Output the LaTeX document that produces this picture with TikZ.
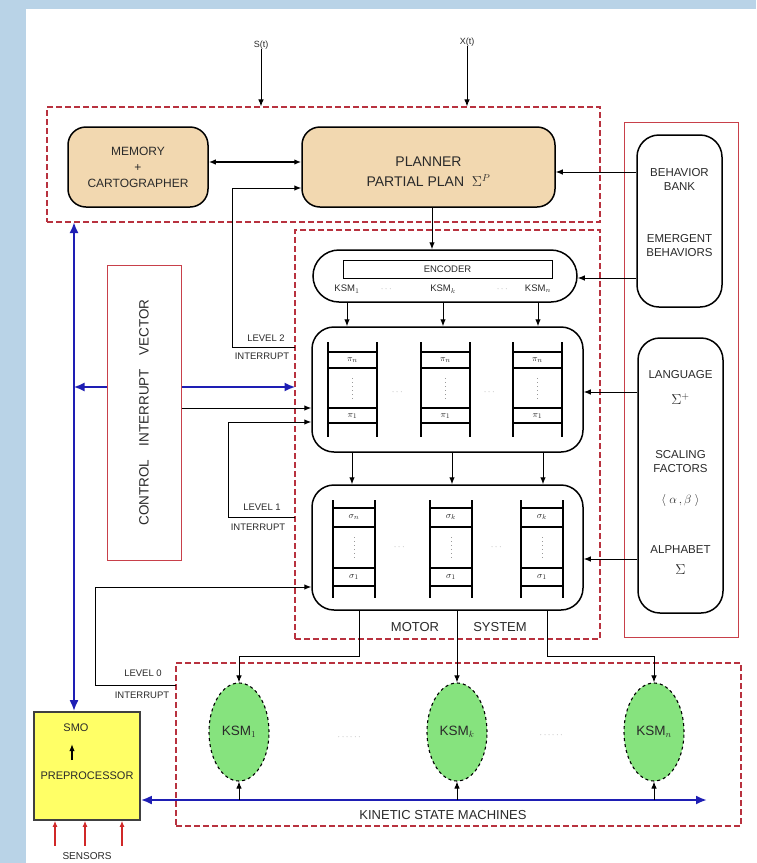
\documentclass[tikz,border=0pt]{standalone}
\usepackage{fontspec}
\setmainfont{Liberation Sans}
\usepackage{amsmath}
\usetikzlibrary{arrows.meta,positioning,shapes.geometric,calc}
\definecolor{bgblue}{HTML}{B9D3E7}
\definecolor{tanfill}{HTML}{F2D8B0}
\definecolor{grpred}{HTML}{B8323F}
\definecolor{boxred}{HTML}{C8404A}
\definecolor{busblue}{HTML}{1E1EB4}
\definecolor{ksmgreen}{HTML}{86E37E}
\definecolor{smoyellow}{HTML}{FFFF66}
\definecolor{inkgray}{HTML}{2A2A2A}
\definecolor{dotgray}{HTML}{9A9A9A}
\definecolor{sensred}{HTML}{D02828}

\begin{document}
\begin{tikzpicture}[
  x=1pt, y=-1pt,
  every node/.style={text=inkgray},
  lbl/.style={font=\fontsize{13}{15}\selectfont, align=center, inner sep=0pt},
  sidelbl/.style={font=\fontsize{11.5}{14}\selectfont, align=center, inner sep=0pt},
  tinylbl/.style={font=\fontsize{9.5}{11}\selectfont, align=center, inner sep=0pt},
  block/.style={rectangle, rounded corners=18pt, draw=black, line width=1.5pt, fill=tanfill, align=center, font=\fontsize{12}{16}\selectfont},
  sidebox/.style={rectangle, rounded corners=22pt, draw=black, line width=1.5pt, fill=white},
  grp/.style={rectangle, draw=grpred, line width=1.1pt, dash pattern=on 6pt off 3pt},
  redbox/.style={rectangle, draw=boxred, line width=1pt},
  ksm/.style={ellipse, draw=black, dashed, line width=1.1pt, fill=ksmgreen, minimum width=60pt, minimum height=98pt, inner sep=0pt, font=\fontsize{13.5}{15}\selectfont},
  arrow/.style={-{Latex[length=7pt,width=5.5pt]}, line width=1pt},
  twoway/.style={{Latex[length=7pt,width=5.5pt]}-{Latex[length=7pt,width=5.5pt]}, line width=1.6pt},
  busarrow/.style={{Latex[length=11pt,width=9pt]}-{Latex[length=11pt,width=9pt]}, draw=busblue, line width=2.6pt},
  bluearrow/.style={-{Latex[length=11pt,width=9pt]}, draw=busblue, line width=2.6pt},
  sensor/.style={-{Latex[length=6pt,width=5pt]}, draw=sensred, line width=1.2pt},
  rail/.style={line width=2.4pt},
  rung/.style={line width=2pt},
  vdot/.style={draw=dotgray, line width=1pt, dash pattern=on 1pt off 3pt},
  faint/.style={text=dotgray, inner sep=0pt, font=\fontsize{9}{9}\selectfont}
]
\useasboundingbox (0,0) rectangle (756,863);
\fill[bgblue] (0,0) rectangle (756,863);
\fill[white] (26,9) rectangle (756,863);

% groups
\node[grp, minimum width=553pt, minimum height=115pt] (topgrp) at (323.5,164.5) {};
\node[grp, minimum width=305pt, minimum height=409pt] (motorgrp) at (447.5,434.5) {};
\node[grp, minimum width=565pt, minimum height=163pt] (ksmgrp) at (458.5,744.5) {};
\node[redbox, minimum width=114pt, minimum height=515pt] (rightbox) at (681,379.5) {};
\node[redbox, minimum width=74pt, minimum height=295pt] (civ) at (144,412.5) {};
\node[lbl, font=\fontsize{13.5}{15}\selectfont, rotate=90] at (civ) {CONTROL\quad INTERRUPT\quad VECTOR};

% inputs
\node[tinylbl, font=\fontsize{9}{10}\selectfont] (st) at (261,45) {S(t)};
\node[tinylbl, font=\fontsize{9}{10}\selectfont] (xt) at (467,42) {X(t)};

% planner level
\node[block, minimum width=140pt, minimum height=80pt] (memory) at (138,167) {MEMORY\\+\\CARTOGRAPHER};
\node[block, minimum width=253pt, minimum height=80pt] (planner) at (428.5,167) {};
\node[lbl, font=\fontsize{14}{16}\selectfont] at ([yshift=-5pt]planner.center) {PLANNER\\[4pt]PARTIAL PLAN~~$\Sigma^{P}$};

% right side
\node[sidebox, minimum width=85pt, minimum height=172pt] (behavior) at (679.5,221) {};
\node[sidelbl] at (679.5,179) {BEHAVIOR\\BANK};
\node[sidelbl] at (679.5,246) {EMERGENT\\BEHAVIORS};
\node[sidebox, minimum width=85pt, minimum height=275pt] (language) at (680.5,475.5) {};
\node[sidelbl] at (680.5,375) {LANGUAGE};
\node[sidelbl, font=\fontsize{14}{14}\selectfont] at (680.5,399) {$\Sigma^{+}$};
\node[sidelbl] at (680.5,462) {SCALING\\FACTORS};
\node[sidelbl] at (680.5,500) {$\langle\;\alpha\,,\beta\;\rangle$};
\node[sidelbl] at (680.5,550) {ALPHABET};
\node[sidelbl, font=\fontsize{14}{14}\selectfont] at (680.5,570) {$\Sigma$};

% encoder
\node[sidebox, rounded corners=26pt, minimum width=264pt, minimum height=52pt] (encoder) at (445,276) {};
\node[draw, line width=0.8pt, fill=white, minimum width=209pt, minimum height=18pt, inner sep=0pt, tinylbl] (enctitle) at (447.5,269) {ENCODER};
\node[tinylbl] at (347,289) {KSM$_1$};
\node[faint] at (387,289) {$\cdots$};
\node[tinylbl] at (443,289) {KSM$_k$};
\node[faint] at (503,289) {$\cdots$};
\node[tinylbl] at (538,289) {KSM$_n$};

% ladder blocks
\node[sidebox, minimum width=271pt, minimum height=125pt] (piblock) at (447.5,389.5) {};
\node[sidebox, minimum width=271pt, minimum height=125pt] (sigblock) at (447.5,547.5) {};
\foreach \lx in {328,421,513} {
  \draw[rail] (\lx,342) -- (\lx,437) (\lx+49,342) -- (\lx+49,437);
  \draw[rung] (\lx,352) -- (\lx+49,352) (\lx,368) -- (\lx+49,368)
              (\lx,408) -- (\lx+49,408) (\lx,423) -- (\lx+49,423);
  \node[tinylbl] at (\lx+24.5,360) {$\pi_n$};
  \node[tinylbl] at (\lx+24.5,416) {$\pi_1$};
  \draw[vdot] (\lx+24.5,378) -- (\lx+24.5,399);
}
\node[faint] at (398,392) {$\cdots$};
\node[faint] at (490,392) {$\cdots$};
\foreach \lx/\sub in {333/n,430/k,521/k} {
  \draw[rail] (\lx,500) -- (\lx,598) (\lx+42,500) -- (\lx+42,598);
  \draw[rung] (\lx,508) -- (\lx+42,508) (\lx,527) -- (\lx+42,527)
              (\lx,568) -- (\lx+42,568) (\lx,586) -- (\lx+42,586);
  \node[tinylbl] at (\lx+21,517) {$\sigma_\sub$};
  \node[tinylbl] at (\lx+21,577) {$\sigma_1$};
  \draw[vdot] (\lx+21,537) -- (\lx+21,559);
}
\node[faint] at (400,547) {$\cdots$};
\node[faint] at (497,547) {$\cdots$};
\node[lbl] at (415,627) {MOTOR};
\node[lbl] at (500,627) {SYSTEM};

% interrupt labels
\node[tinylbl] at (266,338) {LEVEL 2};
\node[tinylbl] at (262,356) {INTERRUPT};
\node[tinylbl] at (262,507) {LEVEL 1};
\node[tinylbl] at (258,527) {INTERRUPT};
\node[tinylbl] at (143,673) {LEVEL 0};
\node[tinylbl] at (142,695) {INTERRUPT};

% kinetic state machines
\node[ksm] (ksm1) at (239,732) {KSM$_1$};
\node[ksm] (ksmk) at (457,732) {KSM$_k$};
\node[ksm] (ksmn) at (654,732) {KSM$_n$};
\node[faint] at (350,737) {$\cdots\cdots$};
\node[faint] at (552,735) {$\cdots\cdots$};
\node[lbl] at (443,815) {KINETIC STATE MACHINES};

% preprocessor
\node[draw=black!75, line width=1.6pt, fill=smoyellow, minimum width=106pt, minimum height=108pt] (smo) at (87,766) {};
\node[lbl, font=\fontsize{11}{13}\selectfont] (smotxt) at (76,728) {SMO};
\node[lbl, font=\fontsize{11}{13}\selectfont] (pretxt) at (87,776) {PREPROCESSOR};
\draw[arrow, line width=1.3pt] (smotxt.south) ++(-4,28) -- ++(0,-16);
\node[lbl, font=\fontsize{10}{12}\selectfont] at (87,856) {SENSORS};

% connectors
\draw[arrow] (st) -- (st |- topgrp.north);
\draw[arrow] (xt) -- (xt |- topgrp.north);
\draw[twoway] ([yshift=5pt]memory.east) -- ([yshift=5pt]planner.west);
\draw[arrow] ([yshift=49pt]behavior.west) -- ([yshift=-5pt]planner.east);
\draw[arrow] ([xshift=3.5pt]planner.south) -- ([xshift=3.5pt]planner.south |- encoder.north);
\draw[arrow] ([yshift=-57pt]behavior.west) -- ([yshift=-2pt]encoder.east);
\foreach \dx in {-98,-2,93}
  \draw[arrow] ([xshift=\dx pt]encoder.south) -- ([xshift=\dx pt]encoder.south |- piblock.north);
\foreach \dx in {-95.5,4.5,95.5}
  \draw[arrow] ([xshift=\dx pt]piblock.south) -- ([xshift=\dx pt]piblock.south |- sigblock.north);
\draw[arrow] ([yshift=83.5pt]language.west) -- ([yshift=-2.5pt]piblock.east);
\draw[arrow] ([yshift=-83.5pt]language.west) -- ([yshift=-11.5pt]sigblock.east);

\coordinate (lv2) at (295,347);
\draw[arrow] (lv2) -- ++(-63,0) |- ([yshift=-21pt]planner.west);
\coordinate (lv1) at (295,517);
\draw[arrow] (lv1) -- ++(-67,0) |- ([yshift=-32.5pt]piblock.west);
\draw[arrow] ([yshift=4.5pt]civ.east) -- ([yshift=-18.5pt]piblock.west);
\coordinate (lv0) at (176,685);
\draw[arrow] (lv0) -- ++(-81,0) |- ([yshift=-39.5pt]sigblock.west);

\draw[bluearrow] ([yshift=25.5pt]civ.east) -- ++(114,0);
\draw[bluearrow] ([yshift=25.5pt]civ.west) -- ++(-33,0);
\coordinate (bustop) at (74,222);
\draw[busarrow] (bustop) -- ([xshift=-13pt]smo.north);
\coordinate (busend) at (707,800);
\draw[busarrow] ([yshift=-34pt]smo.east) -- (busend);

\draw[arrow] ([xshift=-88.5pt]sigblock.south) -- ++(0,46) -| (ksm1.north);
\draw[arrow] (sigblock.south -| ksmk.north) -- (ksmk.north);
\draw[arrow] ([xshift=99.5pt]sigblock.south) -- ++(0,46) -| (ksmn.north);
\foreach \k in {ksm1,ksmk,ksmn}
  \draw[arrow] (\k.south |- busend) -- (\k.south);
\foreach \dx in {-32,-2,35}
  \draw[sensor] ([xshift=\dx pt,yshift=-25pt]smo.south) -- ([xshift=\dx pt]smo.south);
\end{tikzpicture}
\end{document}
